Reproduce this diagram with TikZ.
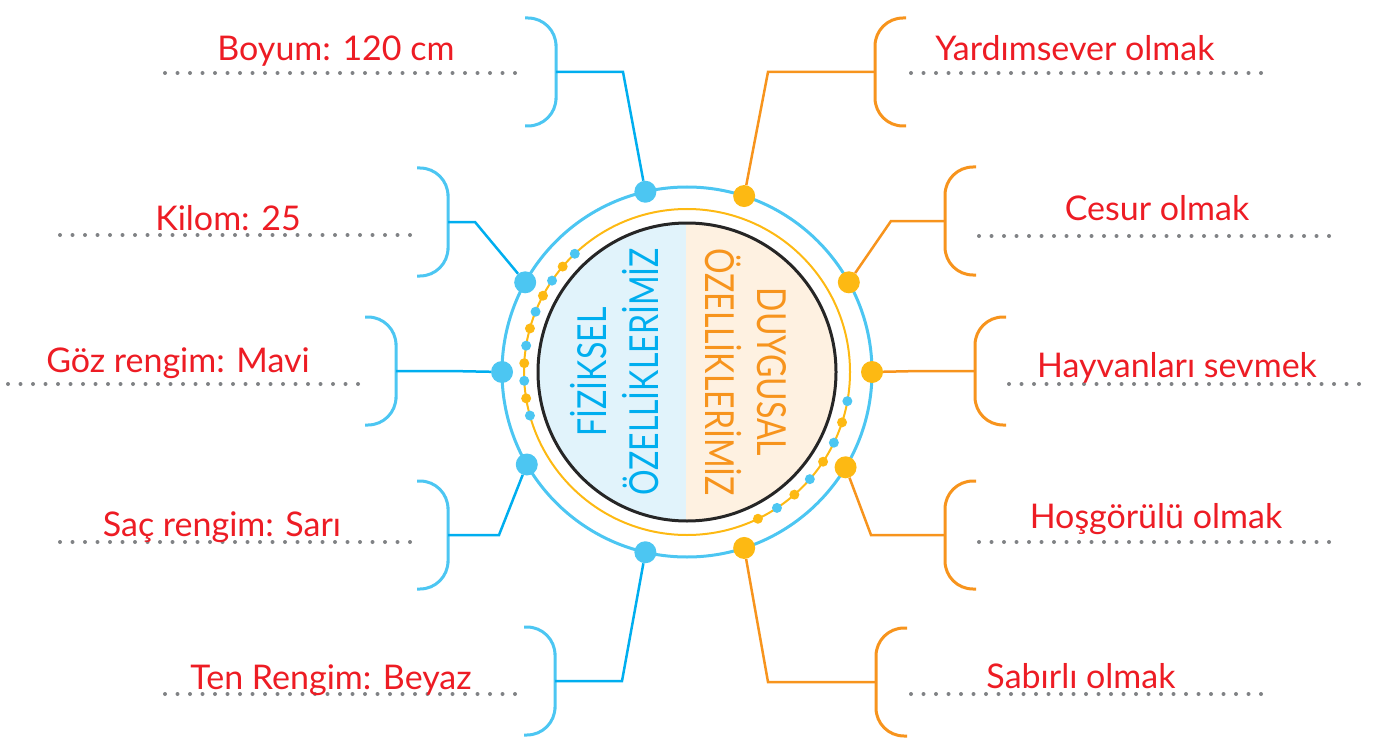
\documentclass[tikz,border=0pt]{standalone}
\usepackage{fontspec}
\setmainfont{Lato}
\newfontfamily\titlefont[FakeStretch=0.8]{Lato}
\usepackage{tikz}

\definecolor{skyb}{HTML}{4CC6F2}
\definecolor{lineb}{HTML}{00AEEF}
\definecolor{sunny}{HTML}{FDB913}
\definecolor{orng}{HTML}{F7941D}
\definecolor{lblred}{HTML}{ED1C24}
\definecolor{dotgray}{HTML}{808285}
\definecolor{paleb}{HTML}{E1F3FB}
\definecolor{paleo}{HTML}{FEF1E1}

\begin{document}
\begin{tikzpicture}[x=1pt,y=-1pt,
	big dot/.style={circle,fill,inner sep=0pt,minimum size=22pt},
	small dot/.style={circle,fill,inner sep=0pt,minimum size=10pt},
	left brace/.style={skyb,line width=3pt,rounded corners=28pt},
	right brace/.style={orng,line width=3pt,rounded corners=28pt},
	left link/.style={lineb,line width=2.5pt},
	right link/.style={orng,line width=2.5pt},
	write line/.style={dotgray,line width=4pt,line cap=round,dash pattern=on 0pt off 12.5pt},
	label/.style={lblred,font=\fontsize{34}{40}\selectfont,anchor=base,inner sep=0pt},
	title/.style={align=center,font=\titlefont\fontsize{40}{52}\selectfont,inner sep=0pt}
]
	\useasboundingbox (0,0) rectangle (1378,738);

	\def \r {185};
	\def \s {163};
	\def \k {149};
	\coordinate (C) at (687,372);

	% inner disc
	\begin{scope}
		\clip (C) circle (\k);
		\fill[paleb] (530,215) rectangle (686,530);
		\fill[paleo] (686,215) rectangle (840,530);
	\end{scope}
	\draw[line width=3pt,black!85] (C) circle (\k);
	\draw[sunny,line width=2pt] (C) circle (\s);
	\draw[skyb,line width=3pt] (C) circle (\r);

	\node[title,rotate=90,text=lineb] (fiz) at (615,372) {FİZİKSEL\\ÖZELLİKLERİMİZ};
	\node[title,rotate=-90,text=orng] (duy) at (746,372) {DUYGUSAL\\ÖZELLİKLERİMİZ};

	% small dots on the inner ring
	\foreach \i in {0,2,...,10}
		\node[small dot,skyb] (ls\i) at ([shift={({-133.5-6.2*\i}:\s)}]C) {};
	\foreach \i in {1,3,...,9}
		\node[small dot,sunny] (ls\i) at ([shift={({-133.5-6.2*\i}:\s)}]C) {};
	\foreach \i in {0,2,4,6}
		\node[small dot,skyb] (rs\i) at ([shift={({10.3+7.7*\i}:\s)}]C) {};
	\foreach \i in {1,3,5,7}
		\node[small dot,sunny] (rs\i) at ([shift={({10.3+7.7*\i}:\s)}]C) {};

	% physical side
	\foreach \n/\a/\bx/\my/\kx/\txt/\tx/\ty/\la/\lb/\ly in {
		1/-103/556/72/623/{Boyum: 120 cm}/336/61/165/522/73,
		2/-151/448/222/475/{Kilom: 25}/228/230/60/415/235,
		3/180/396/371/450/{Göz rengim: Mavi}/178/372/8/363/384,
		4/150/448/535/499/{Saç rengim: Sarı}/222/536/60/415/542,
		5/103/555/681/622/{Ten Rengim: Beyaz}/331/689/165/522/694}
	{
		\node[big dot,skyb] (b\n) at ([shift={(\a:\r)}]C) {};
		\coordinate (bm\n) at (\bx,\my);
		\draw[left brace] ({\bx-31},{\my-54}) -- (\bx,{\my-54}) -- (bm\n) -- (\bx,{\my+54}) -- ({\bx-31},{\my+54});
		\draw[left link] (bm\n) -- (\kx,\my) -- (b\n);
		\draw[write line] (\la,\ly) -- (\lb,\ly);
		\node[label] (bt\n) at (\tx,\ty) {\txt};
	}

	% emotional side
	\foreach \n/\a/\bx/\my/\kx/\txt/\tx/\ty/\la/\lb/\ly in {
		1/-72/875/72/768/{Yardımsever olmak}/1075/61/911/1265/73,
		2/-29/945/221/891/{Cesur olmak}/1157/221/979/1334/236,
		3/0/975/371/920/{Hayvanları sevmek}/1177/377/1009/1364/384,
		4/31/945/535/871/{Hoşgörülü olmak}/1156/528/979/1334/542,
		5/72/876/682/768/{Sabırlı olmak}/1081/688/911/1266/694}
	{
		\node[big dot,sunny] (o\n) at ([shift={(\a:\r)}]C) {};
		\coordinate (om\n) at (\bx,\my);
		\draw[right brace] ({\bx+31},{\my-54}) -- (\bx,{\my-54}) -- (om\n) -- (\bx,{\my+54}) -- ({\bx+31},{\my+54});
		\draw[right link] (om\n) -- (\kx,\my) -- (o\n);
		\draw[write line] (\la,\ly) -- (\lb,\ly);
		\node[label] (ot\n) at (\tx,\ty) {\txt};
	}
\end{tikzpicture}
\end{document}
